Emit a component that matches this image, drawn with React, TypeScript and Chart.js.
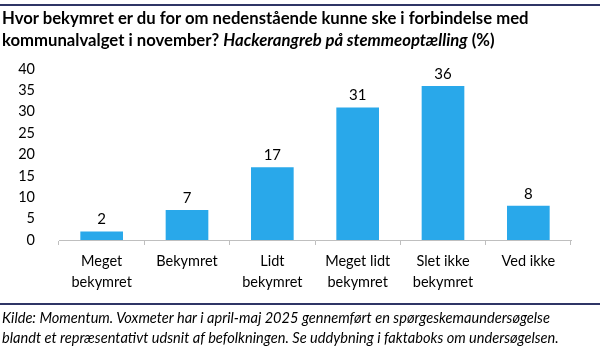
import React, { useEffect, useRef } from "react";
import { Chart, registerables } from "chart.js";

Chart.register(...registerables);

const categories: string[][] = [
  ["Meget", "bekymret"],
  ["Bekymret"],
  ["Lidt", "bekymret"],
  ["Meget lidt", "bekymret"],
  ["Slet ikke", "bekymret"],
  ["Ved ikke"],
];
const values: number[] = [2, 7, 17, 31, 36, 8];
const yTicks: number[] = [0, 5, 10, 15, 20, 25, 30, 35, 40];

const titleLine1 = "Hvor bekymret er du for om nedenstående kunne ske i forbindelse med";
const titleLine2a = "kommunalvalget i november? ";
const titleLine2b = "Hackerangreb på stemmeoptælling";
const titleLine2c = " (%)";
const footLine1 = "Kilde: Momentum. Voxmeter har i april-maj 2025 gennemført en spørgeskemaundersøgelse";
const footLine2 = "blandt et repræsentativt udsnit af befolkningen. Se uddybning i faktaboks om undersøgelsen.";

const FONT = "Lato, 'Open Sans', sans-serif";
const BAR = "#29A8EA";
const NAVY = "#2F3566";

const valueLabels = {
  id: "valueLabels",
  afterDatasetsDraw(chart: any) {
    const ctx = chart.ctx;
    const meta = chart.getDatasetMeta(0);
    ctx.save();
    ctx.fillStyle = "#000";
    ctx.font = `15px ${FONT}`;
    ctx.textAlign = "center";
    ctx.textBaseline = "alphabetic";
    meta.data.forEach((el: any, i: number) => {
      ctx.fillText(String(values[i]), el.x, el.y - 7);
    });
    ctx.restore();
  },
};

export default function App() {
  const ref = useRef<HTMLCanvasElement | null>(null);
  useEffect(() => {
    document.body.style.margin = "0";
    const chart = new Chart(ref.current as HTMLCanvasElement, {
      type: "bar",
      data: {
        labels: categories,
        datasets: [
          {
            data: values,
            backgroundColor: BAR,
            borderWidth: 0,
            barPercentage: 0.5,
            categoryPercentage: 1,
          },
        ],
      },
      options: {
        animation: false,
        responsive: false,
        maintainAspectRatio: false,
        devicePixelRatio: 1,
        layout: { padding: { left: 0, right: 31, top: 69, bottom: 52 } },
        plugins: { legend: { display: false }, tooltip: { enabled: false }, title: { display: false } },
        scales: {
          x: {
            grid: {
              display: true,
              drawOnChartArea: false,
              drawTicks: true,
              tickLength: 5,
              color: "#BFBFBF",
              offset: true,
            },
            border: { display: true, color: "#BFBFBF", width: 1 },
            ticks: {
              color: "#000",
              font: { family: FONT, size: 14.5, lineHeight: 1.5 },
              padding: 5,
              maxRotation: 0,
              autoSkip: false,
            },
            afterFit: (s: any) => {
              s.height = 60;
            },
          },
          y: {
            min: 0,
            max: 40,
            afterBuildTicks: (s: any) => {
              s.ticks = yTicks.map((v) => ({ value: v }));
            },
            grid: { display: false },
            border: { display: false },
            ticks: {
              color: "#000",
              font: { family: FONT, size: 14.5 },
              padding: 16,
            },
            afterFit: (s: any) => {
              s.width = 59;
            },
          },
        },
      },
      plugins: [valueLabels],
    });
    return () => chart.destroy();
  }, []);

  const lineStyle: React.CSSProperties = {
    position: "absolute",
    left: 0,
    width: 600,
    height: 2,
    background: NAVY,
  };
  const textBase: React.CSSProperties = {
    position: "absolute",
    left: 2,
    whiteSpace: "nowrap",
    color: "#000",
    fontFamily: FONT,
  };

  return (
    <div style={{ position: "relative", width: 602, height: 352, background: "#fff", overflow: "hidden" }}>
      <canvas ref={ref} width={602} height={352} style={{ position: "absolute", left: 0, top: 0, width: 602, height: 352 }} />
      <div style={{ ...lineStyle, top: 4 }} />
      <div style={{ ...lineStyle, top: 303 }} />
      <div style={{ ...textBase, top: 7, fontSize: 16.7, fontWeight: 700, lineHeight: "22px" }}>
        <div>{titleLine1}</div>
        <div>
          {titleLine2a}
          <i>{titleLine2b}</i>
          {titleLine2c}
        </div>
      </div>
      <div style={{ ...textBase, top: 308, fontSize: 14.6, fontStyle: "italic", lineHeight: "20px" }}>
        <div>{footLine1}</div>
        <div>{footLine2}</div>
      </div>
    </div>
  );
}
